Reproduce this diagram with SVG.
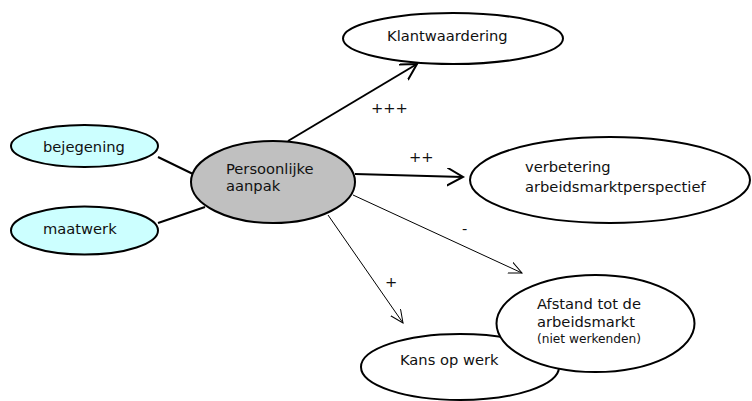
<svg xmlns="http://www.w3.org/2000/svg" width="752" height="401" viewBox="0 0 752 401">
<style>
.node{stroke:#000;stroke-width:2}
.t{font-family:"DejaVu Sans",Verdana,sans-serif;font-size:14.7px;fill:#111}
.s{font-family:"DejaVu Sans",Verdana,sans-serif;font-size:12.2px;fill:#111}
.thick{stroke:#000;stroke-width:2;fill:none}
.thin{stroke:#000;stroke-width:1;fill:none}
</style>
<defs>
<marker id="ah" markerUnits="userSpaceOnUse" markerWidth="20" markerHeight="20" refX="16" refY="9" orient="auto">
<path d="M0,0 L16,9 L0,18" fill="none" stroke="#000" stroke-width="2"/>
</marker>
<marker id="ahs" markerUnits="userSpaceOnUse" markerWidth="16" markerHeight="14" refX="13" refY="6" orient="auto">
<path d="M0,0 L13,6 L0,12" fill="none" stroke="#000" stroke-width="1"/>
</marker>
</defs>
<g id="connectors">
<line class="thick" x1="158" y1="157" x2="193" y2="174"/>
<line class="thick" x1="158" y1="223" x2="205" y2="207"/>
<line class="thick" x1="288" y1="141" x2="417" y2="64" marker-end="url(#ah)"/>
<line class="thick" x1="355" y1="174" x2="463" y2="177" marker-end="url(#ah)"/>
<line class="thin" x1="353" y1="195" x2="522" y2="273" marker-end="url(#ahs)"/>
<line class="thin" x1="328" y1="215" x2="403" y2="323" marker-end="url(#ahs)"/>
<text class="t" x="371" y="113">+++</text>
<text class="t" x="409" y="162">++</text>
<text class="t" x="462" y="234">-</text>
<text class="t" x="385" y="287">+</text>
</g>
<g id="bejegening">
<ellipse class="node" cx="84.5" cy="146" rx="73.5" ry="21" fill="#CCFFFF"/>
<text class="t" x="43" y="152">bejegening</text>
</g>
<g id="maatwerk">
<ellipse class="node" cx="84.5" cy="230.5" rx="73.5" ry="24" fill="#CCFFFF"/>
<text class="t" x="43" y="234">maatwerk</text>
</g>
<g id="persoonlijke-aanpak">
<ellipse class="node" cx="273" cy="182" rx="82" ry="41" fill="#C0C0C0"/>
<text class="t" x="226" y="174">Persoonlijke</text>
<text class="t" x="226" y="191">aanpak</text>
</g>
<g id="klantwaardering">
<ellipse class="node" cx="453" cy="38.5" rx="110" ry="25.5" fill="#fff"/>
<text class="t" x="387" y="41">Klantwaardering</text>
</g>
<g id="verbetering">
<ellipse class="node" cx="610" cy="180" rx="140" ry="43" fill="#fff"/>
<text class="t" x="525" y="172">verbetering</text>
<text class="t" x="525" y="192">arbeidsmarktperspectief</text>
</g>
<g id="kans-op-werk">
<ellipse class="node" cx="460" cy="367" rx="99" ry="33" fill="#fff"/>
<text class="t" x="400" y="365">Kans op werk</text>
</g>
<g id="afstand">
<ellipse class="node" cx="595.5" cy="323.5" rx="99" ry="48.5" fill="#fff"/>
<text class="t" x="537" y="309">Afstand tot de</text>
<text class="t" x="537" y="327">arbeidsmarkt</text>
<text class="s" x="537" y="343">(niet werkenden)</text>
</g>
</svg>
